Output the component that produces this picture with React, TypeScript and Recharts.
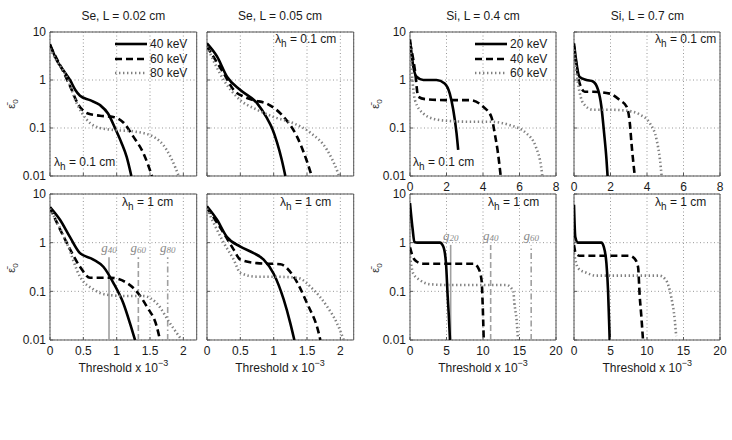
import React from 'react';
import { LineChart, Line, XAxis, YAxis, CartesianGrid, ReferenceArea, ReferenceLine } from 'recharts';

type P = [number, number][];

// ---- tick labels ----
const yTicks = [0.01, 0.1, 1, 10];
const seTicks = [0, 0.5, 1, 1.5, 2];
const siTopTicks = [0, 2, 4, 6, 8];
const siBotTicks = [0, 5, 10, 15, 20];

const seNames = ['40 keV', '60 keV', '80 keV'];
const siNames = ['20 keV', '40 keV', '60 keV'];

// ---- Se, L = 0.02 cm, lambda_h = 0.1 cm ----
const se02a40: P = [[0, 5.6], [0.1, 2.6], [0.2, 1.6], [0.3, 1.0], [0.38, 0.62], [0.45, 0.47], [0.6, 0.38], [0.75, 0.3], [0.87, 0.2], [0.975, 0.1], [1.07, 0.05], [1.15, 0.025], [1.22, 0.01]];
const se02a60: P = [[0, 5.2], [0.1, 2.8], [0.2, 1.5], [0.3, 0.75], [0.43, 0.3], [0.57, 0.2], [0.75, 0.18], [0.95, 0.17], [1.1, 0.13], [1.25, 0.066], [1.4, 0.03], [1.53, 0.01]];
const se02a80: P = [[0, 4.5], [0.1, 2.5], [0.25, 1.17], [0.4, 0.33], [0.55, 0.15], [0.75, 0.1], [1.0, 0.09], [1.25, 0.085], [1.55, 0.066], [1.75, 0.035], [1.88, 0.015], [1.93, 0.01]];

// ---- Se, L = 0.05 cm, lambda_h = 0.1 cm ----
const se05a40: P = [[0, 5.8], [0.15, 3.1], [0.3, 1.17], [0.5, 0.62], [0.75, 0.33], [0.9, 0.16], [0.975, 0.1], [1.05, 0.05], [1.12, 0.022], [1.175, 0.01]];
const se05a60: P = [[0, 5.0], [0.25, 1.38], [0.4, 0.62], [0.55, 0.45], [0.7, 0.38], [0.9, 0.32], [1.15, 0.17], [1.35, 0.066], [1.5, 0.02], [1.57, 0.01]];
const se05a80: P = [[0, 5.0], [0.25, 1.0], [0.5, 0.38], [0.75, 0.24], [1.0, 0.17], [1.3, 0.125], [1.55, 0.08], [1.8, 0.035], [1.95, 0.013], [1.98, 0.01]];

// ---- Se, L = 0.02 cm, lambda_h = 1 cm ----
const se02b40: P = [[0, 5.4], [0.15, 2.96], [0.3, 1.3], [0.45, 0.61], [0.65, 0.45], [0.8, 0.32], [0.95, 0.15], [1.1, 0.057], [1.2, 0.022], [1.275, 0.01]];
const se02b60: P = [[0, 5.2], [0.25, 1.0], [0.45, 0.32], [0.6, 0.19], [0.9, 0.19], [1.15, 0.15], [1.325, 0.09], [1.45, 0.049], [1.6, 0.019], [1.65, 0.01]];
const se02b80: P = [[0, 5.0], [0.25, 1.0], [0.45, 0.2], [0.65, 0.11], [0.85, 0.085], [1.15, 0.08], [1.4, 0.08], [1.6, 0.057], [1.8, 0.022], [1.975, 0.01]];

// ---- Se, L = 0.05 cm, lambda_h = 1 cm ----
const se05b40: P = [[0, 5.6], [0.15, 2.96], [0.3, 1.3], [0.5, 0.83], [0.7, 0.61], [0.85, 0.45], [1.0, 0.23], [1.15, 0.068], [1.25, 0.022], [1.31, 0.01]];
const se05b60: P = [[0, 5.2], [0.25, 1.58], [0.4, 0.72], [0.5, 0.45], [0.75, 0.38], [1.1, 0.36], [1.3, 0.2], [1.5, 0.057], [1.675, 0.014], [1.7, 0.01]];
const se05b80: P = [[0, 5.0], [0.25, 1.0], [0.4, 0.45], [0.5, 0.24], [0.75, 0.2], [1.0, 0.2], [1.35, 0.19], [1.6, 0.107], [1.8, 0.049], [1.95, 0.022], [2.05, 0.01]];

// ---- Si, L = 0.4 cm, lambda_h = 0.1 cm ----
const si04a20: P = [[0, 7.0], [0.18, 1.9], [0.36, 1.17], [0.73, 1.0], [1.45, 1.0], [1.9, 0.85], [2.18, 0.52], [2.37, 0.24], [2.55, 0.078], [2.64, 0.035]];
const si04a40: P = [[0, 6.0], [0.27, 1.6], [0.45, 0.45], [0.82, 0.4], [2.0, 0.38], [3.28, 0.38], [4.0, 0.28], [4.46, 0.17], [4.64, 0.078], [4.82, 0.03], [4.97, 0.01]];
const si04a60: P = [[0, 5.5], [0.15, 0.85], [0.27, 0.38], [0.73, 0.2], [1.45, 0.15], [2.18, 0.14], [3.28, 0.135], [4.37, 0.135], [5.46, 0.115], [6.37, 0.078], [6.9, 0.04], [7.18, 0.016], [7.25, 0.01]];

// ---- Si, L = 0.7 cm, lambda_h = 0.1 cm ----
const si07a20: P = [[0, 5.8], [0.31, 1.15], [0.68, 1.0], [1.04, 0.93], [1.32, 0.62], [1.5, 0.28], [1.65, 0.078], [1.78, 0.022], [1.84, 0.01]];
const si07a40: P = [[0, 5.0], [0.31, 0.85], [0.59, 0.57], [1.04, 0.57], [1.96, 0.52], [2.51, 0.38], [2.88, 0.28], [3.06, 0.125], [3.15, 0.048], [3.33, 0.01]];
const si07a60: P = [[0, 4.3], [0.22, 0.85], [0.5, 0.33], [1.04, 0.24], [1.96, 0.24], [2.88, 0.23], [3.61, 0.19], [4.16, 0.125], [4.53, 0.056], [4.71, 0.022], [4.8, 0.01]];

// ---- Si, L = 0.4 cm, lambda_h = 1 cm ----
const si04b20: P = [[0, 6.5], [0.37, 1.84], [0.6, 1.03], [1.0, 1.0], [4.1, 1.0], [4.56, 0.83], [4.93, 0.38], [5.16, 0.08], [5.3, 0.035], [5.48, 0.01]];
const si04b40: P = [[0, 0.8], [0.37, 0.52], [0.9, 0.41], [1.8, 0.37], [8.7, 0.37], [9.36, 0.3], [9.8, 0.17], [9.95, 0.057], [10.1, 0.01]];
const si04b60: P = [[0, 0.52], [0.45, 0.23], [1.37, 0.17], [2.74, 0.14], [5.0, 0.135], [13.2, 0.135], [14.15, 0.1], [14.3, 0.057], [14.6, 0.026], [14.8, 0.01]];

// ---- Si, L = 0.7 cm, lambda_h = 1 cm ----
const si07b20: P = [[0, 6.0], [0.18, 1.3], [0.55, 1.0], [3.75, 1.0], [4.07, 0.83], [4.44, 0.38], [4.66, 0.107], [4.8, 0.026], [4.89, 0.01]];
const si07b40: P = [[0, 0.9], [0.23, 0.61], [0.78, 0.54], [7.6, 0.54], [8.3, 0.47], [8.77, 0.32], [9.0, 0.08], [9.23, 0.03], [9.45, 0.01]];
const si07b60: P = [[0, 0.61], [0.55, 0.3], [1.7, 0.24], [3.07, 0.21], [11.7, 0.21], [12.6, 0.17], [13.3, 0.079], [13.8, 0.026], [14.0, 0.012]];

// ---- g markers: [x, top value, subscript] ----
const seMarks: [number, number, string][] = [[0.885, 0.5, '40'], [1.325, 0.5, '60'], [1.765, 0.5, '80']];
const siMarks: [number, number, string][] = [[5.57, 0.9, '20'], [11.05, 0.9, '40'], [16.6, 0.9, '60']];

const FONT = "'Liberation Sans', Arial, Helvetica, sans-serif";

const lineStyles = [
  { stroke: '#000', strokeWidth: 2.6 },
  { stroke: '#000', strokeWidth: 2.6, strokeDasharray: '7 4' },
  { stroke: '#808080', strokeWidth: 2.6, strokeDasharray: '1.4 2.6' },
];
const markStyles = [
  { stroke: '#a0a0a0', strokeWidth: 1.6 },
  { stroke: '#a0a0a0', strokeWidth: 1.6, strokeDasharray: '6 3' },
  { stroke: '#a0a0a0', strokeWidth: 1.6, strokeDasharray: '6 3 1.5 3' },
];

const toObj = (d: P) => d.map(([x, y]) => ({ x, y }));

const gLabel = (sub: string) => (props: any) => {
  const vb = props && props.viewBox ? props.viewBox : { x: 0, y: 0, width: 0 };
  const cx = (vb.x || 0) + (vb.width || 0) / 2;
  const top = vb.y || 0;
  return (
    <text x={cx} y={top - 5} textAnchor="middle" fill="#8a8a8a" fontFamily="'Liberation Serif', 'DejaVu Serif', serif" fontStyle="italic" fontSize={13}>
      g<tspan fontSize={9} dy={1}>{sub}</tspan>
    </text>
  );
};

interface PanelProps {
  x: number; y: number; w: number; h: number;
  xMax: number; xTicks: number[];
  showX: boolean; showY: boolean;
  series: P[]; names: string[];
  marks?: [number, number, string][];
}

function Panel({ x, y, w, h, xMax, xTicks, showX, showY, series, names, marks }: PanelProps) {
  const ML = 40, MT = 8, MR = 12, XH = 24;
  return (
    <div style={{ position: 'absolute', left: x - ML, top: y - MT }}>
      <LineChart width={ML + w + MR} height={MT + h + XH} margin={{ top: MT, right: MR, bottom: 0, left: 0 }}>
        <CartesianGrid stroke="#8c8c8c" strokeDasharray="1 2.5" strokeWidth={0.9} />
        <XAxis
          type="number" dataKey="x" domain={[0, xMax]} ticks={xTicks} interval={0} height={XH}
          axisLine={false} tickLine={{ stroke: '#555' }} tickSize={-3} tickMargin={9}
          tick={{ fontSize: 12, fill: '#1a1a1a', fontFamily: FONT }}
          tickFormatter={showX ? (v: number) => String(v) : () => ''}
          allowDataOverflow
        />
        <YAxis
          type="number" scale="log" domain={[0.01, 10]} ticks={yTicks} interval={0} width={ML}
          axisLine={false} tickLine={{ stroke: '#555' }} tickSize={-3} tickMargin={7}
          tick={{ fontSize: 12, fill: '#1a1a1a', fontFamily: FONT }}
          tickFormatter={showY ? (v: number) => String(v) : () => ''}
          allowDataOverflow
        />
        <ReferenceArea x1={0} x2={xMax} y1={0.01} y2={10} fill="none" stroke="#555" strokeWidth={1} fillOpacity={0} />
        {(marks || []).map(([mx, top, sub], i) => (
          <ReferenceLine
            key={'m' + i}
            segment={[{ x: mx, y: 0.01 }, { x: mx, y: top }]}
            {...markStyles[i]}
            label={gLabel(sub)}
          />
        ))}
        {series.map((d, i) => (
          <Line key={i} data={toObj(d)} dataKey="y" name={names[i]} type="monotone" dot={false}
            activeDot={false} isAnimationActive={false} {...lineStyles[i]} />
        ))}
      </LineChart>
    </div>
  );
}

const T = ({ x, y, children, size = 12, align = 'center' }: any) => (
  <div style={{
    position: 'absolute', left: x, top: y, fontFamily: FONT, fontSize: size, color: '#1a1a1a',
    whiteSpace: 'nowrap', lineHeight: 1,
    transform: align === 'center' ? 'translate(-50%, -50%)' : align === 'right' ? 'translate(-100%, -50%)' : 'translate(0, -50%)',
  }}>{children}</div>
);

const Lam = ({ v }: { v: string }) => (
  <span>λ<span style={{ fontSize: 10, position: 'relative', top: 4 }}>h</span> = {v} cm</span>
);

const Eps = ({ x, y }: { x: number; y: number }) => (
  <div style={{
    position: 'absolute', left: x, top: y, fontFamily: FONT, fontSize: 11, color: '#333',
    transform: 'translate(-50%, -50%) rotate(-90deg)', whiteSpace: 'nowrap', lineHeight: 1,
  }}>ε̄<span style={{ fontSize: 8, position: 'relative', top: 3 }}>0</span></div>
);

const XLab = ({ x }: { x: number }) => (
  <T x={x} y={367}>Threshold x 10<sup style={{ fontSize: 9, position: 'relative', top: -1 }}>−3</sup></T>
);

const Legend = ({ x, y, names }: { x: number; y: number; names: string[] }) => (
  <div style={{ position: 'absolute', left: x, top: y }}>
    {names.map((n, i) => (
      <div key={n} style={{ position: 'absolute', left: 0, top: i * 14.5 - 7, height: 14, display: 'flex', alignItems: 'center' }}>
        <svg width={32} height={14} style={{ display: 'block' }}>
          <line x1={0} y1={7} x2={32} y2={7} stroke={lineStyles[i].stroke} strokeWidth={lineStyles[i].strokeWidth}
            strokeDasharray={(lineStyles[i] as any).strokeDasharray} />
        </svg>
        <span style={{ fontFamily: FONT, fontSize: 12, color: '#1a1a1a', marginLeft: 3, whiteSpace: 'nowrap' }}>{n}</span>
      </div>
    ))}
  </div>
);

export default function App() {
  const seW = 146.7, siW = 146;
  const topY = 32, topH = 144, botY = 194, botH = 146;
  const c1 = 50, c2 = 206.7, c3 = 410, c4 = 574.3;
  return (
    <div style={{ position: 'absolute', left: 0, top: 0, width: 732, height: 440, background: '#fff', overflow: 'hidden' }}>
      <Panel x={c1} y={topY} w={seW} h={topH} xMax={2.2} xTicks={seTicks} showX={false} showY series={[se02a40, se02a60, se02a80]} names={seNames} />
      <Panel x={c2} y={topY} w={seW} h={topH} xMax={2.2} xTicks={seTicks} showX={false} showY={false} series={[se05a40, se05a60, se05a80]} names={seNames} />
      <Panel x={c1} y={botY} w={seW} h={botH} xMax={2.2} xTicks={seTicks} showX showY series={[se02b40, se02b60, se02b80]} names={seNames} marks={seMarks} />
      <Panel x={c2} y={botY} w={seW} h={botH} xMax={2.2} xTicks={seTicks} showX showY={false} series={[se05b40, se05b60, se05b80]} names={seNames} />
      <Panel x={c3} y={topY} w={siW} h={topH} xMax={8} xTicks={siTopTicks} showX showY series={[si04a20, si04a40, si04a60]} names={siNames} />
      <Panel x={c4} y={topY} w={siW} h={topH} xMax={8} xTicks={siTopTicks} showX showY={false} series={[si07a20, si07a40, si07a60]} names={siNames} />
      <Panel x={c3} y={botY} w={siW} h={botH} xMax={20} xTicks={siBotTicks} showX showY series={[si04b20, si04b40, si04b60]} names={siNames} marks={siMarks} />
      <Panel x={c4} y={botY} w={siW} h={botH} xMax={20} xTicks={siBotTicks} showX showY={false} series={[si07b20, si07b40, si07b60]} names={siNames} />

      <T x={c1 + seW / 2} y={16}>Se, L = 0.02 cm</T>
      <T x={c2 + seW / 2} y={16}>Se, L = 0.05 cm</T>
      <T x={c3 + siW / 2} y={16}>Si, L = 0.4 cm</T>
      <T x={c4 + siW / 2} y={16}>Si, L = 0.7 cm</T>

      <Legend x={115} y={44} names={seNames} />
      <Legend x={475} y={44} names={siNames} />

      <T x={54} y={162} align="left"><Lam v="0.1" /></T>
      <T x={275} y={39} align="left"><Lam v="0.1" /></T>
      <T x={413} y={162} align="left"><Lam v="0.1" /></T>
      <T x={655} y={39} align="left"><Lam v="0.1" /></T>
      <T x={122} y={202} align="left"><Lam v="1" /></T>
      <T x={280} y={202} align="left"><Lam v="1" /></T>
      <T x={488} y={202} align="left"><Lam v="1" /></T>
      <T x={655} y={202} align="left"><Lam v="1" /></T>

      <Eps x={11} y={104} />
      <Eps x={11} y={268} />
      <Eps x={375} y={104} />
      <Eps x={375} y={268} />

      <XLab x={c1 + seW / 2} />
      <XLab x={c2 + seW / 2} />
      <XLab x={c3 + siW / 2} />
      <XLab x={c4 + siW / 2} />
    </div>
  );
}
